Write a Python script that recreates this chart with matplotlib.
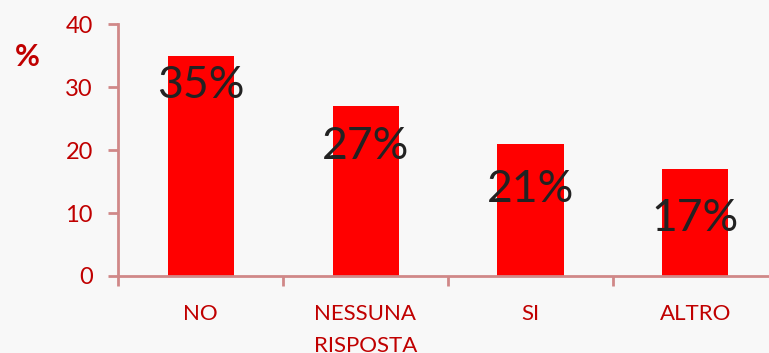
import numpy as np
import matplotlib.pyplot as plt

categories = ['NO', 'NESSUNA\nRISPOSTA', 'SI', 'ALTRO']
values = [35, 27, 21, 17]
# how far below the bar top each percentage label sits (data units)
label_drop = [4.8, 6.4, 7.2, 7.9]

red = '#ff0000'
dark_red = '#c00000'
axis_col = '#d08888'
bg = '#f8f8f8'

plt.rcParams['font.family'] = ['Lato', 'DejaVu Sans']

fig = plt.figure(figsize=(7.69, 3.53), dpi=100, facecolor=bg)
# the x axis runs on past the right border of the image
ax = fig.add_axes([118 / 769, 77 / 353, 660 / 769, 252 / 353])
ax.set_facecolor(bg)

x = np.arange(len(categories))
ax.bar(x, values, width=0.4, color=red, zorder=2)

for xi, v, d in zip(x, values, label_drop):
    ax.text(xi, v - d, f'{v}%', ha='center', va='center',
            fontsize=32, color='#222222', zorder=3)

ax.set_xlim(-0.5, len(categories) - 0.5)
ax.set_ylim(0, 40)
ax.set_yticks([0, 10, 20, 30, 40])

# category labels between boundary ticks
ax.set_xticks(np.arange(len(categories) + 1) - 0.5)
ax.set_xticklabels([])
ax.set_xticks(x, minor=True)
ax.set_xticklabels(categories, minor=True, fontsize=16, color=dark_red,
                   linespacing=1.75, va='top')
ax.tick_params(axis='x', which='minor', length=0, pad=20)
ax.tick_params(axis='x', which='major', length=7, width=2, color=axis_col,
               direction='out')
ax.tick_params(axis='y', length=7, width=2, color=axis_col, direction='out',
               labelsize=17, labelcolor=dark_red, pad=11)

for side in ['top', 'right']:
    ax.spines[side].set_visible(False)
for side in ['left', 'bottom']:
    ax.spines[side].set_color(axis_col)
    ax.spines[side].set_linewidth(2)

fig.text(27 / 769, 1 - 57 / 353, '%', fontsize=22, fontweight='bold',
         color=dark_red, ha='center', va='center')

fig.savefig('out.png', dpi=100, facecolor=bg)
